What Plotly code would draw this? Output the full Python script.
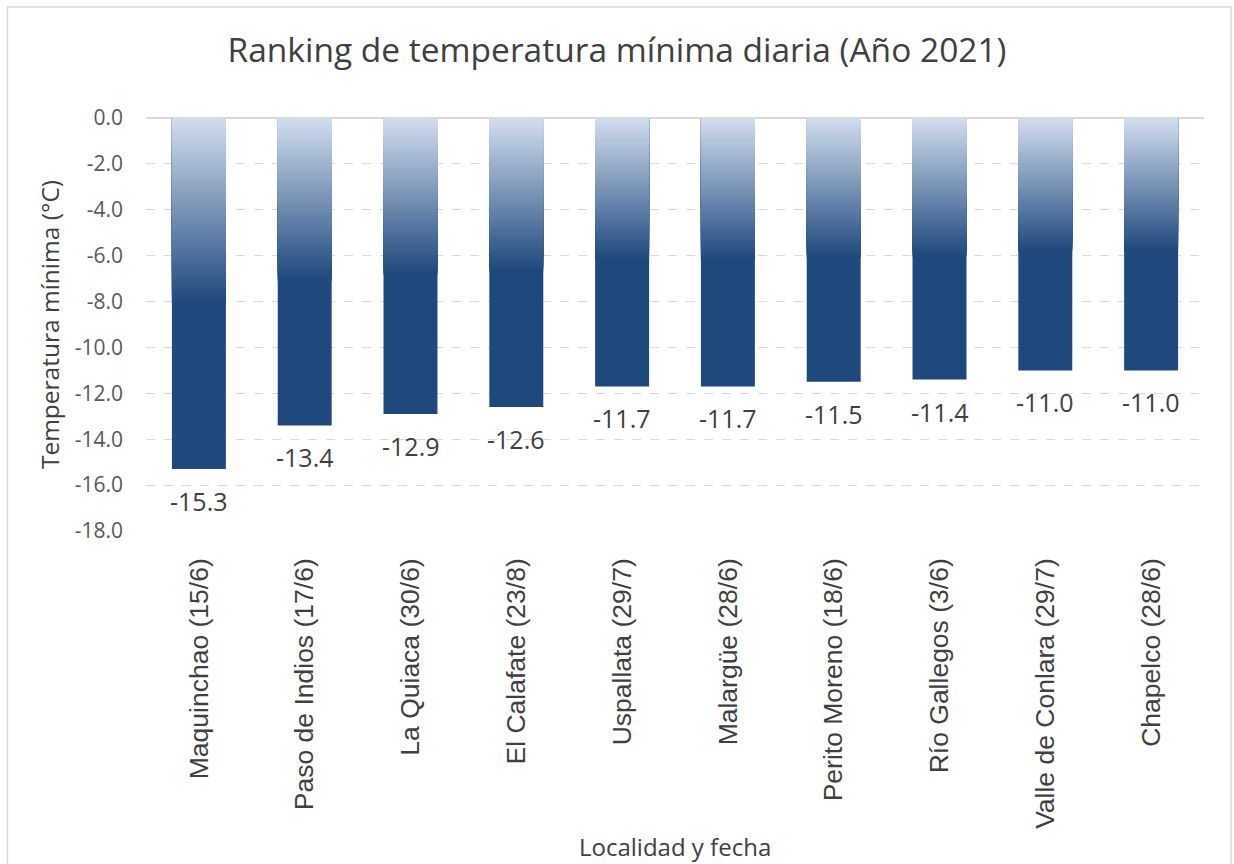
import plotly.graph_objects as go

# Daily minimum temperature ranking, 2021
localidades = [
    "Maquinchao (15/6)", "Paso de Indios (17/6)", "La Quiaca (30/6)",
    "El Calafate (23/8)", "Uspallata (29/7)", "Malargüe (28/6)",
    "Perito Moreno (18/6)", "Río Gallegos (3/6)", "Valle de Conlara (29/7)",
    "Chapelco (28/6)",
]
temp_min = [-15.3, -13.4, -12.9, -12.6, -11.7, -11.7, -11.5, -11.4, -11.0, -11.0]
y_ticks = [0, -2, -4, -6, -8, -10, -12, -14, -16, -18]

FONT = "Open Sans"
TICK_FONT = "Liberation Sans"
LIGHT = (212, 223, 240)
DARK = (31, 73, 125)
STOP = 0.53      # fraction of bar length where the gradient reaches the dark tone
STEPS = 60


def shade(f):
    t = min(f / STOP, 1.0)
    r, g, b = (round(LIGHT[i] + (DARK[i] - LIGHT[i]) * t) for i in range(3))
    return f"rgb({r},{g},{b})"


# Gradient bars: overlapping bars from 0 down to fractions of each value,
# longest (darkest) first so the shorter, lighter ones sit on top.
xs, ys, cols = [], [], []
fracs = [1.0] + [STOP * (STEPS - k) / STEPS for k in range(STEPS)]
for f in fracs:
    for cat, v in zip(localidades, temp_min):
        xs.append(cat)
        ys.append(v * f)
        cols.append(shade(f))

fig = go.Figure()
fig.add_trace(go.Bar(
    x=xs, y=ys, marker=dict(color=cols, line=dict(width=0)),
    width=0.51, hoverinfo="skip", showlegend=False,
))

for cat, v in zip(localidades, temp_min):
    fig.add_annotation(
        x=cat, y=v, text=f"{v:.1f}", showarrow=False,
        yanchor="middle", yshift=-32,
        font=dict(family=FONT, size=25, color="#404040"),
    )

# x-axis title
fig.add_annotation(
    text="Localidad y fecha", xref="paper", yref="paper",
    x=0.5, y=-0.765, xanchor="center", yanchor="middle", showarrow=False,
    font=dict(family=FONT, size=24, color="#404040"),
)

fig.update_layout(
    width=1234, height=864,
    barmode="overlay",
    paper_bgcolor="white", plot_bgcolor="white",
    margin=dict(l=146, r=30, t=118, b=333),
    title=dict(
        text="Ranking de temperatura mínima diaria (Año 2021)",
        x=0.5, xanchor="center", y=0.942, yanchor="middle",
        font=dict(family=FONT, size=33.5, color="#404040"),
    ),
    xaxis=dict(
        tickangle=-90, showgrid=False, showline=False, ticks="",
        tickfont=dict(family=TICK_FONT, size=26.5, color="#404040"),
        ticklabelstandoff=21, automargin=False,
    ),
    yaxis=dict(
        title=dict(text="Temperatura mínima (°C)", standoff=8,
                   font=dict(family=FONT, size=24.5, color="#404040")),
        range=[-18, 0], tickvals=y_ticks,
        ticktext=[f"{t:.1f}" for t in y_ticks],
        showgrid=True, gridcolor="#d9d9d9", griddash="dash", gridwidth=1,
        zeroline=True, zerolinecolor="#d9d9d9", zerolinewidth=2,
        tickfont=dict(family=FONT, size=21, color="#595959"),
        ticks="", ticklabelstandoff=22,
    ),
    shapes=[dict(
        type="rect", xref="paper", yref="paper",
        x0=-0.131, x1=1.0255, y0=-0.9, y1=1.269,
        line=dict(color="#d9d9d9", width=1.5), fillcolor="rgba(0,0,0,0)",
        layer="below",
    )],
)

fig.write_html("out.html")
